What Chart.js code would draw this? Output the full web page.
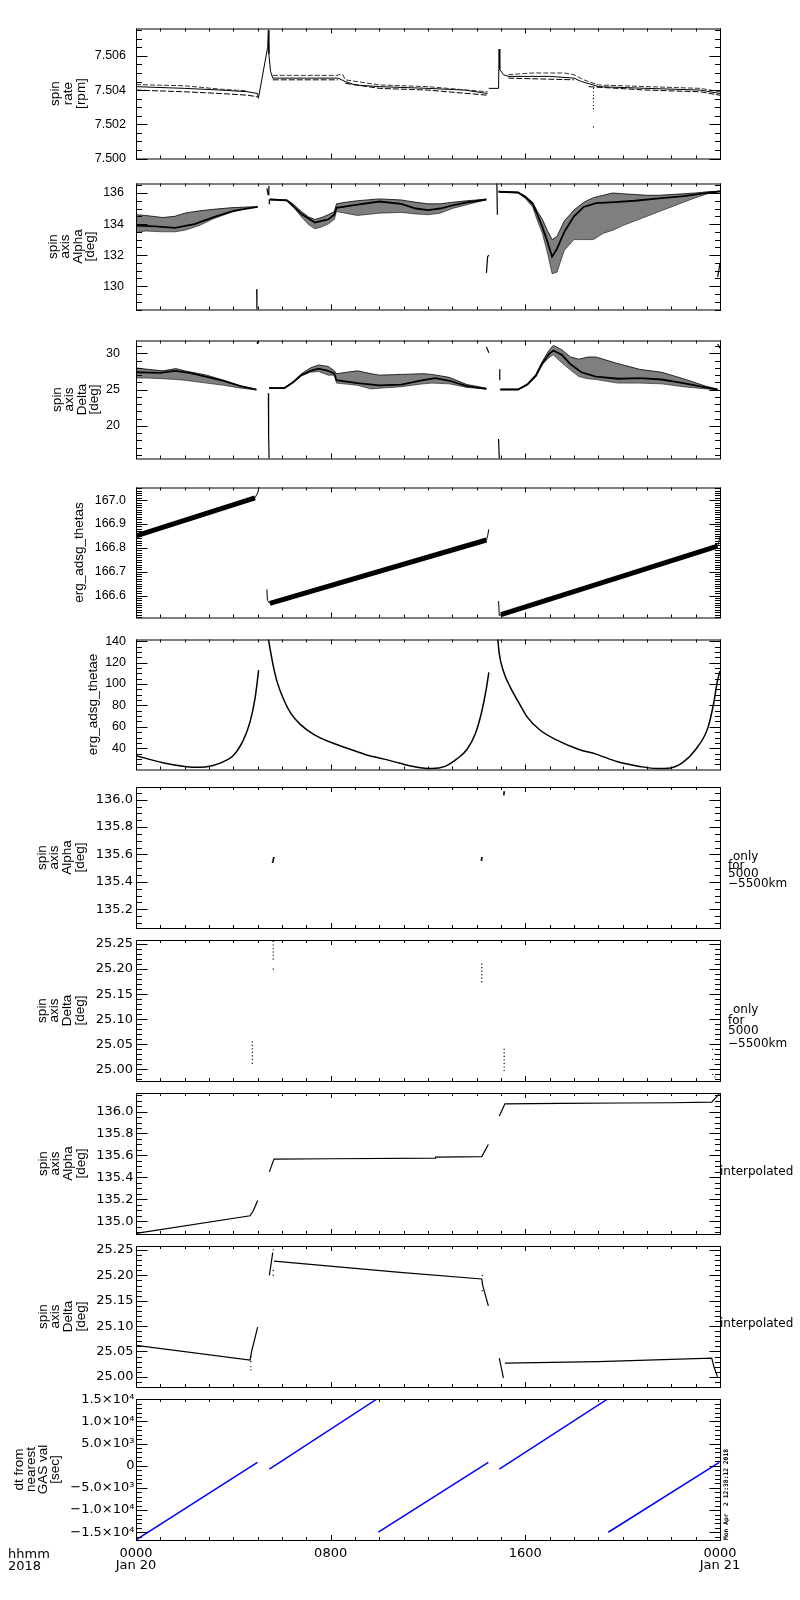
<!DOCTYPE html>
<html><head><meta charset="utf-8">
<script src="https://cdn.jsdelivr.net/npm/chart.js@4.4.1/dist/chart.umd.min.js"></script>
<style>
html,body{margin:0;padding:0;background:#fff;}
#wrap{position:relative;width:800px;height:1600px;background:#fff;overflow:hidden;}
#wrap canvas{position:absolute;left:0;}
</style></head><body><div id="wrap"></div>
<script>
// ===== shared time axis (hours from 2018-01-20 00:00) =====
const xMajorTicks = [0, 8, 16, 24];
const xMajorLabels = [['0000', 'Jan 20'], ['0800'], ['1600'], ['0000', 'Jan 21']];
const xMinorStep = 1;

// ===== panel 1: spin rate [rpm] =====
const rateTicks = [7.500, 7.502, 7.504, 7.506];
const rateLabels = ['7.500', '7.502', '7.504', '7.506'];
const rateMidT = [0, 2.0, 3.5, 4.6, 5.0, 5.03, 5.41, 5.44, 5.46, 5.53, 5.62, 7.0, 8.3, 8.6, 9.0, 10, 12, 13.5, 14.45, 14.47,
                  14.5, 14.9, 14.92, 14.95, 15.1, 15.3, 17.0, 18.0, 18.3, 18.8, 19.0, 21, 23.2, 24];
const rateMidV = [7.5042, 7.5041, 7.5040, 7.5039, 7.5038, 7.50352, 7.5065, 7.5075, 7.5061, 7.5051, 7.5047, 7.5047, 7.5047, 7.5045, 7.5043, 7.5042, 7.5041, 7.5040, 7.5038, null,
                  7.5041, 7.5041, 7.5064, 7.5052, 7.5049, 7.5048, 7.5048, 7.5047, 7.5045, 7.5043, 7.5042, 7.5041, 7.5040, 7.5038];
const rateUpT = [0, 2.0, 3.5, 4.6, 4.7, 5.62, 8.3, 8.32, 8.5, 8.6, 10, 12, 14.45, 14.5, 15.3, 16.3, 17.6, 18.0, 18.4, 19, 21, 23.2, 24];
const rateUpV = [7.50432, 7.50425, 7.50405, 7.50395, null, 7.50486, 7.50486, 7.5049, 7.5049, 7.5046, 7.5043, 7.5042, 7.5039, null,
                 7.5049, 7.5050, 7.5050, 7.5049, 7.5046, 7.5043, 7.5042, 7.5041, 7.5039];
const rateLoT = [0, 2.0, 3.5, 4.6, 5.0, 5.1, 5.62, 8.3, 8.4, 8.6, 10, 12, 14.45, 14.5, 15.3, 18.0, 18.1, 18.6, 21, 23.2, 24];
const rateLoV = [7.5040, 7.5039, 7.5038, 7.5037, 7.5036, null, 7.5046, 7.5046, null, 7.5044, 7.5041, 7.5040, 7.5037, null,
                 7.5047, 7.5046, null, 7.5042, 7.5040, 7.5039, 7.5037];
const rateDipT = [18.8, 18.8, 18.8, 18.8, 18.8, 18.8, 18.8, 18.8];
const rateDipV = [7.5041, 7.5039, 7.5037, 7.5035, 7.5033, 7.5031, 7.5029, 7.50185];

// ===== panel 2: spin axis Alpha [deg] =====
const alphaTicks = [130, 132, 134, 136];
const alphaLabels = ['130', '132', '134', '136'];
const alphaS1T = [0, 0.4, 1.1, 1.6, 2.0, 2.6, 3.2, 3.9, 4.6, 5.0];
const alphaS1Hi = [134.6, 134.55, 134.42, 134.5, 134.7, 134.85, 134.95, 135.05, 135.1, 135.12];
const alphaS1Lo = [133.45, 133.55, 133.5, 133.5, 133.6, 133.9, 134.35, 134.75, 135.03, 135.09];
const alphaS1CoreT = [0, 0.8, 1.6, 2.4, 3.2, 4.0, 5.0];
const alphaS1CoreV = [133.9, 133.85, 133.75, 134.0, 134.45, 134.85, 135.1];
const alphaS2T = [5.5, 6.2, 6.45, 6.8, 7.1, 7.35, 7.6, 7.9, 8.15, 8.24, 8.6, 9.1, 10.0, 10.9, 11.5, 12.0, 12.5, 13.0, 13.6, 14.4];
const alphaS2Hi = [135.6, 135.55, 135.3, 134.8, 134.45, 134.3, 134.4, 134.6, 134.8, 135.3, 135.4, 135.5, 135.62, 135.55, 135.4, 135.3, 135.3, 135.4, 135.5, 135.6];
const alphaS2Lo = [135.56, 135.5, 135.15, 134.45, 133.95, 133.7, 133.8, 134.0, 134.3, 134.8, 134.7, 134.55, 134.7, 134.75, 134.65, 134.6, 134.7, 135.0, 135.25, 135.56];
const alphaS2CoreT = [5.5, 6.2, 6.8, 7.35, 7.9, 8.15, 8.24, 9.1, 10.0, 10.9, 11.5, 12.0, 12.5, 13.0, 13.6, 14.4];
const alphaS2CoreV = [135.58, 135.52, 134.65, 134.1, 134.3, 134.6, 135.05, 135.25, 135.45, 135.3, 135.0, 134.9, 135.0, 135.2, 135.4, 135.58];
const alphaS3T = [14.9, 15.3, 15.7, 16.0, 16.3, 16.5, 16.7, 16.9, 17.1, 17.3, 17.6, 18.0, 18.4, 18.8, 19.2, 19.6, 20.0, 20.5, 21.0, 21.5, 22.0, 22.5, 23.0, 23.5, 24.0];
const alphaS3Hi = [136.1, 136.08, 136.05, 135.8, 135.4, 134.8, 134.3, 133.6, 133.0, 133.2, 134.2, 134.9, 135.4, 135.7, 135.85, 136.0, 135.95, 135.9, 135.85, 135.85, 135.9, 135.95, 136.0, 136.08, 136.12];
const alphaS3Lo = [136.05, 136.04, 136.0, 135.65, 135.1, 134.2, 133.4, 132.2, 130.8, 130.9, 132.3, 133.0, 133.0, 133.0, 133.4, 133.6, 133.9, 134.2, 134.5, 134.8, 135.1, 135.4, 135.7, 135.95, 136.08];
const alphaS3CoreT = [14.9, 15.7, 16.0, 16.3, 16.5, 16.7, 16.9, 17.1, 17.3, 17.6, 18.0, 18.4, 18.9, 19.5, 20.5, 21.5, 22.5, 23.5, 24.0];
const alphaS3CoreV = [136.08, 136.03, 135.75, 135.3, 134.6, 133.8, 132.9, 131.9, 132.4, 133.5, 134.5, 135.1, 135.35, 135.4, 135.5, 135.65, 135.8, 136.0, 136.1];
const alphaExtraT = [4.96, 4.97, 4.98, 5.38, 5.43, 5.46, 5.47, 5.48, 5.48, 5.49, 14.4, 14.45, 14.5, 14.51, 14.83, 14.85, 14.86, 23.9, 23.95, 24.0];
const alphaExtraV = [129.8, 128.4, null, 136.3, 135.9, 136.45, null, 135.6, 135.27, null, 130.86, 131.9, 132.0, null, 136.65, 134.6, null, 130.6, 131.0, 131.5];

// ===== panel 3: spin axis Delta [deg] =====
const deltaTicks = [20, 25, 30];
const deltaLabels = ['20', '25', '30'];
const deltaS1T = [0, 0.5, 1.1, 1.64, 2.0, 2.9, 3.6, 4.3, 4.85, 4.95];
const deltaS1Hi = [28.0, 27.8, 27.6, 27.9, 27.6, 27.0, 26.3, 25.5, 25.1, 25.0];
const deltaS1Lo = [26.6, 26.6, 26.5, 26.4, 26.3, 25.9, 25.6, 25.2, 25.0, 24.95];
const deltaS1CoreT = [0, 1.0, 1.6, 2.2, 3.0, 3.6, 4.3, 4.95];
const deltaS1CoreV = [27.4, 27.3, 27.6, 27.3, 26.7, 26.2, 25.5, 25.0];
const deltaS2T = [5.47, 6.1, 6.45, 6.8, 7.17, 7.5, 7.9, 8.15, 8.24, 9.1, 9.66, 10.0, 10.9, 11.8, 12.15, 12.87, 13.6, 14.4];
const deltaS2Hi = [25.25, 25.25, 26.1, 27.2, 28.0, 28.4, 28.2, 27.6, 27.2, 27.6, 27.2, 27.0, 27.1, 27.2, 27.1, 26.7, 25.7, 25.2];
const deltaS2Lo = [25.15, 25.2, 25.9, 26.9, 27.4, 27.5, 27.0, 27.0, 25.9, 25.6, 25.1, 25.2, 25.4, 25.8, 25.9, 25.8, 25.3, 25.1];
const deltaS2CoreT = [5.47, 6.1, 6.45, 6.8, 7.17, 7.5, 7.9, 8.15, 8.24, 9.1, 10.0, 10.9, 11.8, 12.3, 12.9, 13.6, 14.4];
const deltaS2CoreV = [25.2, 25.22, 26.0, 27.0, 27.6, 27.9, 27.6, 27.2, 26.3, 25.9, 25.6, 25.7, 26.3, 26.6, 26.2, 25.5, 25.1];
const deltaS3T = [14.97, 15.7, 16.08, 16.43, 16.7, 16.97, 17.15, 17.5, 17.86, 18.2, 18.57, 18.9, 19.8, 20.7, 21.6, 22.5, 23.4, 23.9];
const deltaS3Hi = [25.05, 25.05, 25.8, 27.1, 28.9, 30.4, 31.1, 30.5, 29.5, 29.2, 29.5, 29.5, 28.6, 27.8, 27.4, 26.5, 25.5, 25.05];
const deltaS3Lo = [25.0, 25.0, 25.6, 26.8, 28.5, 29.4, 29.8, 28.7, 27.7, 26.8, 26.5, 26.4, 25.9, 25.9, 25.8, 25.4, 25.1, 25.0];
const deltaS3CoreT = [14.97, 15.7, 16.08, 16.43, 16.7, 16.97, 17.15, 17.5, 17.86, 18.3, 18.9, 19.8, 20.7, 21.6, 22.5, 23.4, 23.9];
const deltaS3CoreV = [25.02, 25.02, 25.7, 26.9, 28.6, 29.9, 30.4, 29.8, 28.5, 27.4, 26.8, 26.5, 26.6, 26.4, 25.9, 25.3, 25.02];
const deltaExtraT = [4.99, 4.99, 5.0, 5.44, 5.45, 5.47, 5.48, 14.4, 14.5, 14.51, 14.9, 14.93, 14.94, 14.95, 14.95, 14.96, 23.9, 24.0];
const deltaExtraV = [31.65, 31.3, null, 24.5, 18.8, 15.4, null, 30.9, 30.1, null, 18.2, 15.4, null, 27.8, 26.3, null, 31.3, 30.7];

// ===== panel 4: erg_adsg_thetas =====
const thetasTicks = [166.6, 166.7, 166.8, 166.9, 167.0];
const thetasLabels = ['166.6', '166.7', '166.8', '166.9', '167.0'];
const thetasThickT = [0, 4.89, 4.9, 5.5, 14.4, 14.5, 15.0, 23.9];
const thetasThickV = [166.85, 167.01, null, 166.567, 166.833, null, 166.52, 166.807];
const thetasThinT = [4.89, 5.0, 5.07, 5.1, 5.38, 5.40, 5.5, 5.52, 14.4, 14.45, 14.5, 14.6, 14.9, 14.93, 15.0, 15.1, 23.9, 23.95, 24.0];
const thetasThinV = [167.01, 167.03, 167.06, null, 166.626, 166.58, 166.567, null, 166.833, 166.85, 166.878, null, 166.577, 166.516, 166.52, null, 166.807, 166.825, 166.846];

// ===== panel 5: erg_adsg_thetae =====
const thetaeTicks = [40, 60, 80, 100, 120, 140];
const thetaeLabels = ['40', '60', '80', '100', '120', '140'];
const thetaeT = [0, 1.1, 2.0, 2.6, 3.16, 3.6, 4.0, 4.41, 4.69, 4.9, 5.04, 5.2,
                 5.44, 5.54, 5.64, 5.8, 6.05, 6.35, 6.74, 7.3, 8.1, 8.8, 9.48, 10.2, 10.85, 11.5, 12.16, 12.7, 13.2, 13.6, 13.94, 14.2, 14.38, 14.5, 14.7,
                 14.87, 14.92, 15.1, 15.37, 15.72, 16.08, 16.6, 17.3, 18.2, 18.9, 19.8, 20.7, 21.4, 21.96, 22.5, 23.0, 23.5, 23.74, 23.89, 24.0];
const thetaeV = [33.0, 26.5, 23.0, 22.1, 23.9, 27.5, 33.1, 47.5, 64.8, 87.8, 112.9, null,
                 142, 129, 117, 102, 86.5, 73, 62.5, 53, 44.6, 39.0, 33.7, 29.8, 25.9, 22.5, 21.0, 23.0, 30.2, 38.8, 53.2, 73.4, 93.5, 110.8, null,
                 142, 129.5, 112, 97.5, 83, 69, 57, 47.5, 38.8, 34.5, 27.3, 23.0, 21.0, 21.6, 27.3, 38.8, 59.0, 82, 102.2, 112.2];

// ===== panel 6: spin axis Alpha, only 5000-5500 km =====
const alphaOnlyTicks = [135.2, 135.4, 135.6, 135.8, 136.0];
const alphaOnlyLabels = ['135.2', '135.4', '135.6', '135.8', '136.0'];
const alphaOnlyT = [5.62, 5.64, 5.66, 14.20, 14.21, 15.12, 15.13];
const alphaOnlyV = [135.545, 135.56, 135.575, 135.56, 135.575, 136.04, 136.055];

// ===== panel 7: spin axis Delta, only 5000-5500 km =====
const deltaOnlyTicks = [25.00, 25.05, 25.10, 25.15, 25.20, 25.25];
const deltaOnlyLabels = ['25.00', '25.05', '25.10', '25.15', '25.20', '25.25'];
const deltaOnlyT = [4.78, 4.78, 4.78, 4.78, 4.78, 4.78, 4.78, 5.64, 5.64, 5.64, 5.64, 5.64, 5.64, 5.64,
                    14.21, 14.21, 14.21, 14.21, 14.21, 14.21, 15.13, 15.13, 15.13, 15.13, 15.13, 15.13, 15.13,
                    23.7, 23.7, 23.7, 23.7, 23.8, 23.8, 23.8];
const deltaOnlyV = [25.055, 25.048, 25.041, 25.034, 25.027, 25.020, 25.012, 25.255, 25.248, 25.241, 25.234, 25.227, 25.220, 25.200,
                    25.210, 25.203, 25.196, 25.189, 25.182, 25.175, 25.040, 25.033, 25.026, 25.019, 25.012, 25.005, 24.998,
                    25.04, 25.02, 25.00, 24.99, 25.03, 25.01, 24.985];

// ===== panel 8: spin axis Alpha, interpolated =====
const alphaIntTicks = [135.0, 135.2, 135.4, 135.6, 135.8, 136.0];
const alphaIntLabels = ['135.0', '135.2', '135.4', '135.6', '135.8', '136.0'];
const alphaIntT = [0, 4.69, 4.83, 5.0, 5.2, 5.48, 5.67, 8.0, 12.3, 12.31, 14.21, 14.48, 14.7, 14.93, 15.16, 17.5, 20.0, 22.0, 23.66, 23.8, 24.0];
const alphaIntV = [134.89, 135.05, 135.10, 135.19, null, 135.45, 135.566, 135.57, 135.575, 135.585, 135.59, 135.70, null, 135.96, 136.07, 136.075, 136.078, 136.08, 136.085, 136.12, 136.17];

// ===== panel 9: spin axis Delta, interpolated =====
const deltaIntT = [0, 4.69, 4.75, 5.0, 5.2, 5.48, 5.62, 5.65, 5.67, 10.85, 14.21, 14.25, 14.48, 14.7, 14.93, 15.1, 15.13, 15.16, 19.0, 23.66, 23.75, 23.9];
const deltaIntV = [25.062, 25.033, 25.05, 25.098, null, 25.20, 25.245, null, 25.228, 25.206, 25.193, 25.18, 25.14, null, 25.037, 24.998, null, 25.027, 25.03, 25.037, 25.02, 25.0];
const deltaIntDotT = [4.72, 4.72, 4.72, 4.72, 5.64, 5.64, 5.64, 14.23, 14.23, 14.23];
const deltaIntDotV = [25.04, 25.03, 25.02, 25.014, 25.25, 25.21, 25.20, 25.20, 25.185, 25.17];

// ===== panel 10: dt from nearest GAS val [sec] =====
const dtTicks = [-15000, -10000, -5000, 0, 5000, 10000, 15000];
const dtLabels = ['\u22121.5\u00d710\u2074', '\u22121.0\u00d710\u2074', '\u22125.0\u00d710\u00b3', '0', '5.0\u00d710\u00b3', '1.0\u00d710\u2074', '1.5\u00d710\u2074'];
const dtT = [0, 4.99, 5.2, 5.48, 9.89, 9.92, 9.96, 14.48, 14.7, 14.93, 19.37, 19.39, 19.41, 23.97];
const dtV = [-16730, 750, null, -750, 15000, null, -15000, 750, null, -750, 15000, null, -15000, 750];

// ===== helpers =====
const F_LIB = "'Liberation Sans', Arial, sans-serif";
const F_DV = "'DejaVu Sans', sans-serif";
const pts = (t, v) => t.map((x, i) => ({x: x, y: v[i]}));
const L = (t, v, o) => Object.assign({data: pts(t, v), showLine: true, pointRadius: 0, borderColor: '#000', borderWidth: 1, fill: false, spanGaps: false}, o || {});
const D = (t, v, o) => Object.assign({data: pts(t, v), showLine: false, pointRadius: 1, pointStyle: 'rect', backgroundColor: '#000', pointBackgroundColor: '#000', pointBorderWidth: 0, borderColor: '#000'}, o || {});
const band = (t, hi, lo) => [
  L(t, hi, {fill: '+1', backgroundColor: 'rgba(0,0,0,0.5)', borderWidth: 0.8}),
  L(t, lo, {borderWidth: 0.8, borderColor: 'rgba(0,0,0,0.7)'})
];
const core = (t, v) => L(t, v, {borderWidth: 1.8});
const fontA = {family: F_LIB, size: 12.5};
const fontB = {family: F_DV, size: 13};
const deg4 = (w) => ['spin', 'axis', w, '[deg]'];

const panels = [
  {top: 23, min: 7.5000, max: 7.5076, ticks: rateTicks, labels: rateLabels, minor: 0.0005, title: ['spin', 'rate', '[rpm]'], titleX: 55, titleLH: 13, pad: 10, font: fontA,
   datasets: [L(rateUpT, rateUpV, {borderDash: [5, 2], borderColor: '#333'}), L(rateMidT, rateMidV), L(rateLoT, rateLoV, {borderDash: [6, 2]}), D(rateDipT, rateDipV, {pointRadius: 0.8})]},
  {top: 176, min: 128.5, max: 136.61, ticks: alphaTicks, labels: alphaLabels, minor: 0.5, title: deg4('Alpha'), titleX: 53, titleLH: 12.5, pad: 12, font: fontA,
   datasets: [...band(alphaS1T, alphaS1Hi, alphaS1Lo), ...band(alphaS2T, alphaS2Hi, alphaS2Lo), ...band(alphaS3T, alphaS3Hi, alphaS3Lo),
              core(alphaS1CoreT, alphaS1CoreV), core(alphaS2CoreT, alphaS2CoreV), core(alphaS3CoreT, alphaS3CoreV), L(alphaExtraT, alphaExtraV, {borderWidth: 1.2})]},
  {top: 329, min: 15.5, max: 31.78, ticks: deltaTicks, labels: deltaLabels, minor: 1, title: deg4('Delta'), titleX: 57, titleLH: 12.5, pad: 16, font: fontA,
   datasets: [...band(deltaS1T, deltaS1Hi, deltaS1Lo), ...band(deltaS2T, deltaS2Hi, deltaS2Lo), ...band(deltaS3T, deltaS3Hi, deltaS3Lo),
              core(deltaS1CoreT, deltaS1CoreV), core(deltaS2CoreT, deltaS2CoreV), core(deltaS3CoreT, deltaS3CoreV), L(deltaExtraT, deltaExtraV, {borderWidth: 1.2})]},
  {top: 482, min: 166.508, max: 167.053, ticks: thetasTicks, labels: thetasLabels, minor: 0.01, title: 'erg_adsg_thetas', titleX: 79, titleLH: 14, pad: 10, font: fontA,
   datasets: [L(thetasThickT, thetasThickV, {borderWidth: 5}), L(thetasThinT, thetasThinV, {borderWidth: 1})]},
  {top: 634, min: 20.1, max: 141.6, ticks: thetaeTicks, labels: thetaeLabels, minor: 5, title: 'erg_adsg_thetae', titleX: 93, titleLH: 14, pad: 10, font: fontA,
   datasets: [L(thetaeT, thetaeV, {borderWidth: 1.5, cubicInterpolationMode: 'monotone'})]},
  {top: 787, min: 135.063, max: 136.093, ticks: alphaOnlyTicks, labels: alphaOnlyLabels, minor: 0.05, title: deg4('Alpha'), titleX: 42, titleLH: 12.7, pad: 3, font: fontB,
   datasets: [D(alphaOnlyT, alphaOnlyV, {pointRadius: 1.3})],
   texts: [['only', 733, 860], ['for', 728, 868.5], ['5000', 728, 877], ['\u22125500km', 728, 886.5]]},
  {top: 940, min: 24.977, max: 25.258, ticks: deltaOnlyTicks, labels: deltaOnlyLabels, minor: 0.01, title: deg4('Delta'), titleX: 42, titleLH: 12.7, pad: 3, font: fontB,
   datasets: [D(deltaOnlyT, deltaOnlyV, {pointRadius: 0.8})],
   texts: [['only', 733, 1013], ['for', 728, 1024], ['5000', 728, 1034], ['\u22125500km', 728, 1046.5]]},
  {top: 1093, min: 134.884, max: 136.169, ticks: alphaIntTicks, labels: alphaIntLabels, minor: 0.05, title: deg4('Alpha'), titleX: 43, titleLH: 12.7, pad: 2.5, font: fontB,
   datasets: [L(alphaIntT, alphaIntV, {borderWidth: 1.2})],
   texts: [['interpolated', 720, 1174.5]]},
  {top: 1246, min: 24.98, max: 25.258, ticks: deltaOnlyTicks, labels: deltaOnlyLabels, minor: 0.01, title: deg4('Delta'), titleX: 43, titleLH: 12.7, pad: 2.5, font: fontB,
   datasets: [L(deltaIntT, deltaIntV, {borderWidth: 1.2}), D(deltaIntDotT, deltaIntDotV, {pointRadius: 0.8})],
   texts: [['interpolated', 720, 1326.5]]},
  {top: 1399, min: -16750, max: 15050, ticks: dtTicks, labels: dtLabels, minor: 1000, title: ['dt from', 'nearest', 'GAS val', '[sec]'], titleX: 19, titleLH: 12, pad: 1.5, font: fontB,
   datasets: [L(dtT, dtV, {borderColor: '#0000ff', borderWidth: 1.5})],
   texts: [['hhmm', 8, 1558], ['2018', 8, 1569.5]], stamp: 'Mon Apr  2 12:38:12 2018'}
];

// ===== IDL-style frame, inward ticks and extra text =====
const idlAxes = {
  id: 'idlAxes',
  afterDraw(chart, args, opts) {
    const p = opts.panel, off = opts.canvasTop;
    const {ctx, chartArea: a, scales} = chart;
    ctx.save();
    ctx.strokeStyle = '#000';
    ctx.lineWidth = 1;
    ctx.strokeRect(a.left + 0.5, a.top + 0.5, a.right - a.left, a.bottom - a.top);
    ctx.beginPath();
    const xs = scales.x;
    for (let h = 0; h <= 24; h += xMinorStep) {
      const len = xMajorTicks.includes(h) ? 5 : 3;
      const px = Math.round(xs.getPixelForValue(h)) + 0.5;
      ctx.moveTo(px, a.bottom); ctx.lineTo(px, a.bottom - len);
      ctx.moveTo(px, a.top); ctx.lineTo(px, a.top + len);
    }
    const ys = scales.y;
    const k0 = Math.ceil(p.min / p.minor - 1e-6), k1 = Math.floor(p.max / p.minor + 1e-6);
    for (let k = k0; k <= k1; k++) {
      const v = k * p.minor;
      const major = p.ticks.some(t => Math.abs(t - v) < p.minor * 0.01);
      const len = major ? 11.5 : 6;
      const py = Math.round(ys.getPixelForValue(v)) + 0.5;
      ctx.moveTo(a.left, py); ctx.lineTo(a.left + len, py);
      ctx.moveTo(a.right + 1, py); ctx.lineTo(a.right + 1 - len, py);
    }
    ctx.stroke();
    ctx.fillStyle = '#000';
    if (p.texts) {
      const big = p.texts[0][0] === 'hhmm';
      ctx.font = (big ? '13px ' : '12px ') + F_DV;
      ctx.textAlign = 'left';
      ctx.textBaseline = 'alphabetic';
      p.texts.forEach(t => ctx.fillText(t[0], t[1], t[2] - off));
    }
    if (p.stamp) {
      ctx.save();
      ctx.translate(727.5, 1540 - off);
      ctx.rotate(-Math.PI / 2);
      ctx.font = "bold 6.3px 'DejaVu Sans Mono', monospace";
      ctx.textAlign = 'left';
      ctx.textBaseline = 'alphabetic';
      ctx.fillText(p.stamp, 0, 0);
      ctx.restore();
    }
    ctx.restore();
  }
};

const noGrid = {display: false, drawTicks: false, tickLength: 0};
const wrap = document.getElementById('wrap');
panels.forEach((p, i) => {
  const last = i === panels.length - 1;
  const bottomH = last ? 60 : 12;
  const H = 12 + 141 + bottomH;
  const cv = document.createElement('canvas');
  cv.width = 800; cv.height = H;
  cv.style.width = '800px'; cv.style.height = H + 'px';
  cv.style.top = (p.top - 12) + 'px';
  wrap.appendChild(cv);
  new Chart(cv, {
    type: 'scatter',
    data: {datasets: p.datasets},
    options: {
      responsive: false, animation: false, devicePixelRatio: 1, events: [],
      layout: {padding: 0},
      plugins: {legend: {display: false}, tooltip: {enabled: false}, idlAxes: {panel: p, canvasTop: p.top - 12}},
      scales: {
        x: {type: 'linear', axis: 'x', position: 'bottom', min: 0, max: 24,
            afterBuildTicks: s => { s.ticks = xMajorTicks.map(v => ({value: v})); },
            afterFit: s => { s.height = bottomH; },
            grid: noGrid, border: {display: false},
            ticks: {display: last, autoSkip: false, maxRotation: 0, minRotation: 0, padding: 8, color: '#000',
                    font: {family: F_DV, size: 13, lineHeight: '11.5px'}, callback: (v, idx) => xMajorLabels[idx]}},
        xTop: {type: 'linear', axis: 'x', position: 'top', min: 0, max: 24,
               afterFit: s => { s.height = 12; }, grid: noGrid, border: {display: false}, ticks: {display: false}},
        y: {type: 'linear', axis: 'y', position: 'left', min: p.min, max: p.max,
            afterBuildTicks: s => { s.ticks = p.ticks.map(v => ({value: v})); },
            afterFit: s => { s.width = 136; },
            grid: noGrid, border: {display: false},
            ticks: {autoSkip: false, padding: p.pad, color: '#000', font: p.font, callback: (v, idx) => p.labels[idx]},
            title: {display: true, text: p.title, color: '#000', align: 'center',
                    font: {family: F_LIB, size: 13.5, lineHeight: p.titleLH + 'px'},
                    padding: {top: p.titleX - p.titleLH / 2, bottom: 0}}},
        yR: {type: 'linear', axis: 'y', position: 'right', min: p.min, max: p.max,
             afterFit: s => { s.width = 80; }, grid: noGrid, border: {display: false}, ticks: {display: false}}
      }
    },
    plugins: [idlAxes]
  });
});
</script></body></html>
